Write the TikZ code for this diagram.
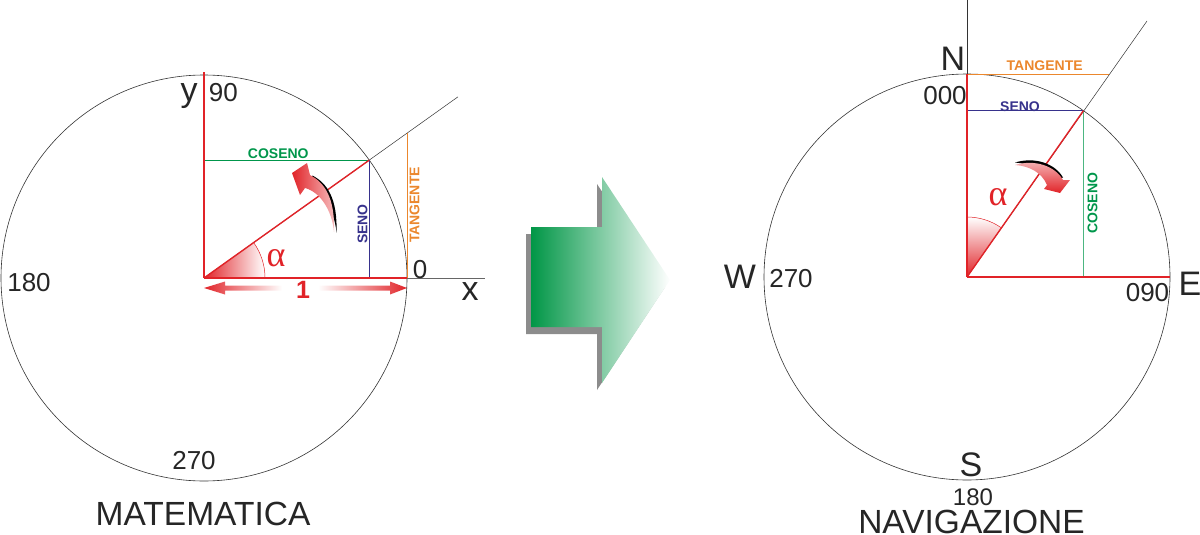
\documentclass[tikz,border=0pt]{standalone}
\usepackage{fontspec}
\setmainfont{Liberation Sans}
\newfontfamily\greekfont{Liberation Serif}
\usetikzlibrary{calc}
\definecolor{myred}{RGB}{225,35,40}
\definecolor{mygreen}{RGB}{0,150,75}
\definecolor{myblue}{RGB}{55,50,140}
\definecolor{myorange}{RGB}{235,135,45}
\definecolor{arrgreen}{RGB}{0,150,70}
\begin{document}
\begin{tikzpicture}[x=1pt,y=-1pt,
  lbl/.style={font=\fontsize{26}{26}\selectfont, inner sep=0pt, anchor=base, text=black!85},
  big/.style={font=\fontsize{34}{34}\selectfont, inner sep=0pt, anchor=base, text=black!85},
  title/.style={font=\fontsize{33.5}{34}\selectfont, inner sep=0pt, anchor=base, text=black!85},
  tiny/.style={font=\fontsize{14}{14}\selectfont\bfseries, inner sep=0pt},
  greek/.style={font=\fontsize{36}{36}\selectfont\greekfont, inner sep=0pt, anchor=base, text=myred},
  circ/.style={draw=black!80, line width=0.6pt},
  axisline/.style={draw=myred, line width=1.4pt},
  thinline/.style={draw=black!80, line width=0.5pt},
  trig/.style={line width=0.7pt},
]
\useasboundingbox (0,0) rectangle (1200,535);

% ================= LEFT: MATEMATICA =================
\coordinate (O1) at (204,278);
\coordinate (P1) at (369.3,160.1);
\coordinate (T1) at (407,133.2);
\coordinate (L1) at (458,96.8);
\coordinate (X1) at (407,278);
\coordinate (XE1) at (485,278);
\coordinate (Y1) at (204,72);
\coordinate (C1) at (204,160.1);
\coordinate (S1) at (369.3,278);

\draw[circ] (O1) circle[radius=203pt];
\draw[thinline, draw=black!60] (O1) -- (XE1);
\draw[thinline] (O1) -- (L1);
% wedge
\shade[left color=myred, right color=white] (O1) -- ++(0:61pt) arc[start angle=0, end angle=35.5, radius=61pt] -- cycle;
\draw[myred, line width=0.5pt] ($(O1)+(0:61pt)$) arc[start angle=0, end angle=35.5, radius=61pt];
% trig lines
\draw[trig, mygreen] (C1) -- (P1);
\draw[trig, myblue] (P1) -- (S1);
\draw[trig, myorange] (X1) -- (T1);
% axes
\draw[axisline] (O1) -- (Y1);
\draw[axisline] (O1) -- (X1);
\draw[axisline] (O1) -- (P1);

% unit arrows
\shade[left color=myred, right color=white] (204,288) -- (225,281.5) -- (225,285.5) -- (282,285.5) -- (282,290.5) -- (225,290.5) -- (225,294.5) -- cycle;
\shade[left color=white, right color=myred] (407,288) -- (390,281.5) -- (390,285.5) -- (318,285.5) -- (318,290.5) -- (390,290.5) -- (390,294.5) -- cycle;

% curved arrow left
\begin{scope}[shift={(2.5,0.5)}]
\fill[black] (310,175) .. controls (325,183) and (335,198) .. (334,232) .. controls (332,210) and (320,192) .. (305,188) -- cycle;
\end{scope}
\shade[left color=myred, right color=myred!30!white] (310,175) .. controls (325,183) and (335,198) .. (334,232) .. controls (332,210) and (320,192) .. (305,188) -- (300,195) -- (292,173) -- (307,163) -- cycle;

% labels left
\node[big] (ylab) at (189,102) {y};
\node[lbl] (l90) at (223.3,101.7) {90};
\node[lbl] (l0) at (420,278) {0};
\node[big] (xlab) at (470,300) {x};
\node[lbl] (l180) at (29,291.7) {180};
\node[lbl] (l270) at (194,469.3) {270};
\node[title] (mat) at (203,525) {MATEMATICA};
\node[greek] (alpha1) at (276,266.7) {α};
\node[font=\fontsize{25}{25}\selectfont\bfseries, text=myred, inner sep=0pt, anchor=base] (one) at (303,298.3) {1};
\node[tiny, text=mygreen] (cos1) at (278.3,153.7) {COSENO};
\node[tiny, text=myblue, rotate=90] (sen1) at (362.5,224) {SENO};
\node[tiny, text=myorange, rotate=90] (tan1) at (414.5,205) {TANGENTE};

% ================= MIDDLE ARROW =================
\fill[black!45] (526,234) -- (597,234) -- (597,184) -- (665,287) -- (597,390) -- (597,334) -- (526,334) -- cycle;
\shade[left color=arrgreen, right color=white] (531,227) -- (602,227) -- (602,177) -- (670,280) -- (602,383) -- (602,327) -- (531,327) -- cycle;

% ================= RIGHT: NAVIGAZIONE =================
\coordinate (O2) at (967,277);
\coordinate (P2) at (1083.4,110.7);
\coordinate (T2) at (1109.1,74);
\coordinate (L2) at (1147,21);
\coordinate (N2) at (967,74);
\coordinate (NT2) at (967,0);
\coordinate (E2) at (1170,277);
\coordinate (S2) at (967,110.7);
\coordinate (C2) at (1083.4,277);

\draw[circ] (O2) circle[radius=203pt];
\draw[thinline] (N2) -- (NT2);
\draw[thinline] (O2) -- (L2);
\shade[bottom color=myred, top color=white] (O2) -- ++(90:60pt) arc[start angle=90, end angle=55, radius=60pt] -- cycle;
\draw[myred, line width=0.5pt] ($(O2)+(90:60pt)$) arc[start angle=90, end angle=55, radius=60pt];
\draw[trig, myblue] (S2) -- (P2);
\draw[trig, mygreen!70] (P2) -- (C2);
\draw[trig, myorange] (N2) -- (T2);
\draw[axisline] (O2) -- (N2);
\draw[axisline] (O2) -- (E2);
\draw[axisline] (O2) -- (P2);

% curved arrow right
\begin{scope}[shift={(0,-2.5)}]
\fill[black] (1015,165) .. controls (1035,159) and (1055,166) .. (1063,180) -- (1047,185) .. controls (1042,173) and (1030,166) .. (1015,165) -- cycle;
\end{scope}
\shade[top color=myred!30!white, bottom color=myred] (1015,165) .. controls (1035,159) and (1055,166) .. (1063,180) -- (1070,180) -- (1060,193) -- (1044,189) -- (1047,185) .. controls (1042,173) and (1030,166) .. (1015,165) -- cycle;

% labels right
\node[big] (nlab) at (953,70.7) {N};
\node[lbl] (r000) at (945,104) {000};
\node[tiny, text=myorange] (tan2) at (1044.7,65.8) {TANGENTE};
\node[tiny, text=myblue] (sen2) at (1020,106.7) {SENO};
\node[tiny, text=mygreen, rotate=90] (cos2) at (1092.5,203) {COSENO};
\node[greek] (alpha2) at (998,205) {α};
\node[big] (elab) at (1190,295) {E};
\node[lbl] (r090) at (1147.5,301.7) {090};
\node[big] (wlab) at (740,288) {W};
\node[lbl] (r270) at (791,287) {270};
\node[big] (slab) at (971,476.7) {S};
\node[lbl, font=\fontsize{24}{24}\selectfont] (r180) at (973,505.5) {180};
\node[title] (nav) at (971.5,533) {NAVIGAZIONE};
\end{tikzpicture}
\end{document}
